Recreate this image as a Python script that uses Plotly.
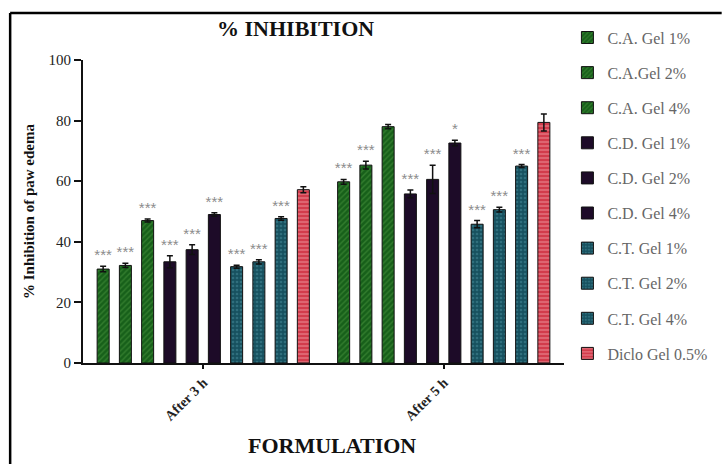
import plotly.graph_objects as go

# Time points on the x axis
groups = ["After 3 h", "After 5 h"]

# Formulations (one bar per formulation in each time group)
formulations = [
    "C.A. Gel 1%", "C.A.Gel 2%", "C.A. Gel 4%",
    "C.D. Gel 1%", "C.D. Gel 2%", "C.D. Gel 4%",
    "C.T. Gel 1%", "C.T. Gel 2%", "C.T. Gel 4%",
    "Diclo Gel 0.5%",
]

# Mean % inhibition per formulation: [after 3 h, after 5 h]
ca_1 = [31.0, 59.8]
ca_2 = [32.2, 65.3]
ca_4 = [47.0, 78.0]
cd_1 = [33.4, 55.8]
cd_2 = [37.4, 60.6]
cd_4 = [49.0, 72.6]
ct_1 = [31.8, 45.8]
ct_2 = [33.4, 50.6]
ct_4 = [47.7, 65.0]
diclo = [57.2, 79.4]

# Standard error per formulation
ca_1_err = [0.9, 0.8]
ca_2_err = [0.7, 1.3]
ca_4_err = [0.5, 0.7]
cd_1_err = [2.0, 1.3]
cd_2_err = [1.6, 4.7]
cd_4_err = [0.6, 0.9]
ct_1_err = [0.5, 1.2]
ct_2_err = [0.7, 0.8]
ct_4_err = [0.6, 0.5]
diclo_err = [1.0, 2.8]

# Significance markers
ca_1_sig = ["***", "***"]
ca_2_sig = ["***", "***"]
ca_4_sig = ["***", ""]
cd_1_sig = ["***", "***"]
cd_2_sig = ["***", "***"]
cd_4_sig = ["***", "*"]
ct_1_sig = ["***", "***"]
ct_2_sig = ["***", "***"]
ct_4_sig = ["***", "***"]
diclo_sig = ["", ""]

means = [ca_1, ca_2, ca_4, cd_1, cd_2, cd_4, ct_1, ct_2, ct_4, diclo]
errors = [ca_1_err, ca_2_err, ca_4_err, cd_1_err, cd_2_err, cd_4_err,
          ct_1_err, ct_2_err, ct_4_err, diclo_err]
sigs = [ca_1_sig, ca_2_sig, ca_4_sig, cd_1_sig, cd_2_sig, cd_4_sig,
        ct_1_sig, ct_2_sig, ct_4_sig, diclo_sig]

# Fill styles per family: (background, pattern colour, pattern shape)
green = ("#17601a", "#4f9a42", "/")
purple = ("#1d0b28", "#1d0b28", "")
teal = ("#17515f", "#4a8e9c", ".")
red = ("#d23c4c", "#f2b0b8", "-")
styles = [green] * 3 + [purple] * 3 + [teal] * 3 + [red]

serif = "Liberation Serif"

fig = go.Figure()

for i, (name, y, err, sig, st) in enumerate(zip(formulations, means, errors, sigs, styles)):
    bg, fg, shape = st
    fig.add_trace(go.Bar(
        x=groups, y=y, name=name,
        offsetgroup=str(i), legendgroup=str(i),
        marker=dict(
            color=bg,
            line=dict(color="#111111", width=1),
            pattern=dict(shape=shape, fgcolor=fg, bgcolor=bg, size=4, solidity=0.35),
        ),
        error_y=dict(type="data", array=err, visible=True, color="#111111",
                     thickness=1.5, width=3),
        hoverinfo="skip",
    ))
    # invisible bar up to the error cap carrying the significance stars
    tops = [m + e for m, e in zip(y, err)]
    fig.add_trace(go.Bar(
        x=groups, y=tops, offsetgroup=str(i), showlegend=False,
        marker=dict(color="rgba(0,0,0,0)", line=dict(width=0)),
        text=sig, textposition="outside", constraintext="none", cliponaxis=False,
        textfont=dict(family="Liberation Sans", size=15, color="#8c8c8c"),
        hoverinfo="skip",
    ))

fig.update_layout(
    width=723, height=464,
    margin=dict(l=83, r=158, t=60, b=101),
    paper_bgcolor="white", plot_bgcolor="white",
    barmode="group", bargap=0.075, bargroupgap=0.46,
    font=dict(family=serif, color="#222222"),
    title=dict(text="<b>% INHIBITION</b>", x=0.442, xref="paper", xanchor="center",
               y=1 - 28 / 464, yanchor="middle",
               font=dict(family=serif, size=22, color="#111111")),
    legend=dict(x=1.005, xanchor="left", y=1.13, yanchor="top",
                font=dict(family=serif, size=16, color="#666666"),
                tracegroupgap=11.3, bgcolor="rgba(0,0,0,0)", maxheight=460),
    showlegend=True,
)

fig.update_yaxes(
    range=[0, 100], tickvals=[0, 20, 40, 60, 80, 100],
    showgrid=False, zeroline=False,
    showline=True, linecolor="#111111", linewidth=2,
    ticks="outside", ticklen=7, tickwidth=2, tickcolor="#111111",
    tickfont=dict(family=serif, size=15, color="#222222"),
    tickprefix="<b>", ticksuffix="</b>",
    title=dict(text="<b>% Inhibition of paw edema</b>", standoff=10,
               font=dict(family=serif, size=15, color="#111111")),
)

fig.update_xaxes(
    range=[-0.5, 1.5],
    showgrid=False, showline=True, linecolor="#111111", linewidth=2,
    ticks="outside", ticklen=4, tickwidth=2, tickcolor="#111111",
    tickangle=-45,
    tickfont=dict(family=serif, size=14, color="#222222"),
    tickprefix="<b>", ticksuffix="</b>",
)

# x axis title
fig.add_annotation(
    text="<b>FORMULATION</b>", xref="paper", yref="paper",
    x=0.517, y=(363 - 445) / 303, xanchor="center", yanchor="middle",
    showarrow=False, font=dict(family=serif, size=22, color="#111111"),
)

# outer frame lines (left and top)
fig.add_shape(type="line", xref="paper", yref="paper",
              x0=(10 - 83) / 482, x1=(723 - 83) / 482,
              y0=(363 - 13) / 303, y1=(363 - 13) / 303,
              line=dict(color="black", width=2.5))
fig.add_shape(type="line", xref="paper", yref="paper",
              x0=(10 - 83) / 482, x1=(10 - 83) / 482,
              y0=(363 - 13) / 303, y1=(363 - 464) / 303,
              line=dict(color="black", width=2.5))

fig.write_html("out.html")
